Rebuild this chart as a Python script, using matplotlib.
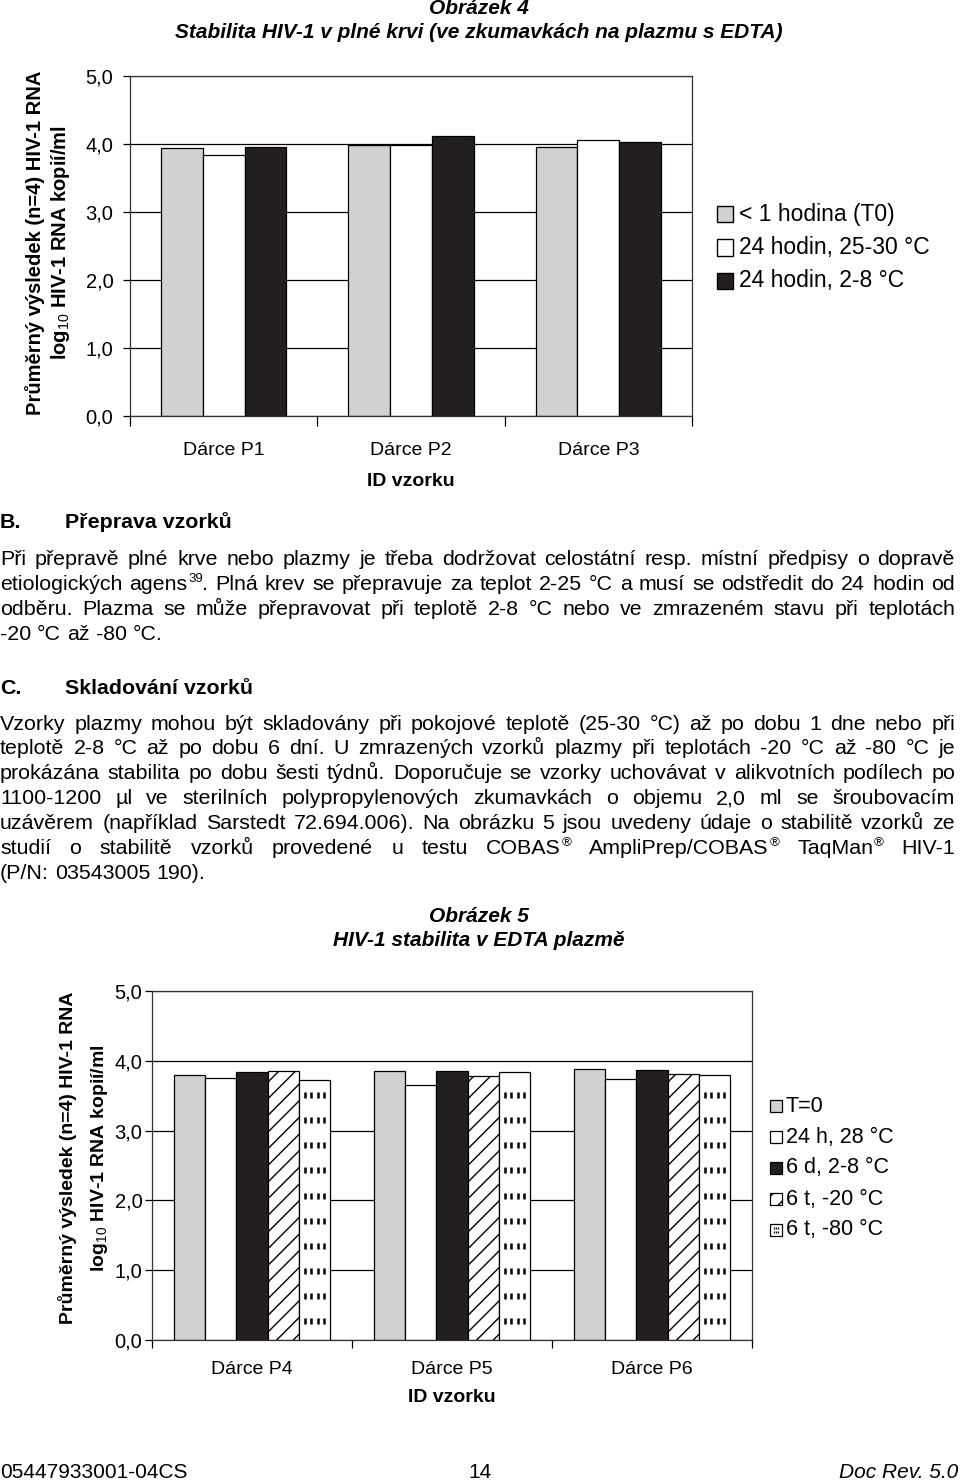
import re

import numpy as np
import matplotlib
matplotlib.use('Agg')
from matplotlib import pyplot as plt
from matplotlib.patches import Rectangle

plt.rcParams['font.family'] = ['Liberation Sans', 'DejaVu Sans']
plt.rcParams['mathtext.fontset'] = 'custom'
plt.rcParams['mathtext.rm'] = 'Liberation Sans'
plt.rcParams['mathtext.it'] = 'Liberation Sans:italic'
plt.rcParams['mathtext.bf'] = 'Liberation Sans:bold'
plt.rcParams['hatch.linewidth'] = 1.0

W, H = 960, 1483

# ---- data, figure 4 (whole blood) ----
donors_4 = ['Dárce P1', 'Dárce P2', 'Dárce P3']
series_4 = ['< 1 hodina (T0)', '24 hodin, 25-30 °C', '24 hodin, 2-8 °C']
t0_4 = [3.94, 3.99, 3.96]
h24_warm_4 = [3.84, 3.98, 4.06]
h24_cold_4 = [3.96, 4.12, 4.03]

# ---- data, figure 5 (EDTA plasma) ----
donors_5 = ['Dárce P4', 'Dárce P5', 'Dárce P6']
series_5 = ['T=0', '24 h, 28 °C', '6 d, 2-8 °C', '6 t, -20 °C', '6 t, -80 °C']
t0_5 = [3.79, 3.85, 3.88]
h24_5 = [3.75, 3.66, 3.74]
d6_cold_5 = [3.84, 3.86, 3.87]
w6_m20_5 = [3.86, 3.78, 3.81]
w6_m80_5 = [3.72, 3.84, 3.79]

yticks = [0, 1, 2, 3, 4, 5]
ytick_labels = ['0,0', '1,0', '2,0', '3,0', '4,0', '5,0']

ylabel_1 = 'Průměrný výsledek (n=4) HIV-1 RNA'
ylabel_2 = r'log$_{10}$ HIV-1 RNA kopií/ml'

para_b = [
    'Při přepravě plné krve nebo plazmy je třeba dodržovat celostátní resp. místní předpisy o dopravě',
    'etiologických agens^{39}. Plná krev se přepravuje za teplot 2-25 °C a musí se odstředit do 24 hodin od',
    'odběru. Plazma se může přepravovat při teplotě 2-8 °C nebo ve zmrazeném stavu při teplotách',
    '-20 °C až -80 °C.',
]
para_c = [
    'Vzorky plazmy mohou být skladovány při pokojové teplotě (25-30 °C) až po dobu 1 dne nebo při',
    'teplotě 2-8 °C až po dobu 6 dní. U zmrazených vzorků plazmy při teplotách -20 °C až -80 °C je',
    'prokázána stabilita po dobu šesti týdnů. Doporučuje se vzorky uchovávat v alikvotních podílech po',
    '1100-1200 µl ve sterilních polypropylenových zkumavkách o objemu 2,0 ml se šroubovacím',
    'uzávěrem (například Sarstedt 72.694.006). Na obrázku 5 jsou uvedeny údaje o stabilitě vzorků ze',
    'studií o stabilitě vzorků provedené u testu COBAS^{®} AmpliPrep/COBAS^{®} TaqMan^{®} HIV-1',
    '(P/N: 03543005 190).',
]

GRAY = '#cfd1d2'
BLACK = '#231f20'


def px(x):
    return x / W


def py(y):
    return 1 - y / H


fig = plt.figure(figsize=(W / 100, H / 100), dpi=100)
renderer = fig.canvas.get_renderer()


def bar_chart(left, top, right, bottom, donors, values, styles, bar_w, xlab_y, tick_len, ypad, xpad):
    ax = fig.add_axes([px(left), py(bottom), px(right) - px(left), py(top) - py(bottom)])
    x = np.arange(len(donors))
    n = len(values)
    containers = []
    for i, (vals, st) in enumerate(zip(values, styles)):
        offs = (i - (n - 1) / 2) * bar_w
        b = ax.bar(x + offs, vals, bar_w, facecolor=st[0], hatch=st[1],
                   edgecolor='black', linewidth=0.9, zorder=2)
        containers.append(b)
    ax.set_xlim(-0.5, len(donors) - 0.5)
    ax.set_ylim(0, 5)
    ax.set_yticks(yticks)
    ax.set_yticklabels(ytick_labels, fontsize=14.5)
    ax.yaxis.grid(True, color='black', linewidth=0.9)
    ax.set_axisbelow(True)
    ax.set_xticks(np.arange(len(donors) + 1) - 0.5)
    ax.set_xticklabels([])
    ax.set_xticks(x, minor=True)
    ax.set_xticklabels(donors, minor=True, fontsize=14)
    ax.tick_params(axis='x', which='minor', length=0, pad=xpad)
    ax.tick_params(axis='x', which='major', length=tick_len, width=0.9, direction='out')
    ax.tick_params(axis='y', length=5, width=0.9, pad=ypad)
    for sp in ax.spines.values():
        sp.set_linewidth(0.9)
        sp.set_color('#333333')
    ax.set_xlabel('ID vzorku', fontsize=14, fontweight='bold', va='center')
    ax.xaxis.set_label_coords(0.5, (bottom - xlab_y) / (bottom - top))
    return ax, containers


def dashes_in_bars(ax, container, nx=4, step=0.36, start=0.27):
    # little vertical dash pattern of the "-80 °C" bars
    for r in container:
        x0, w, top = r.get_x(), r.get_width(), r.get_height()
        xs = x0 + w * (np.arange(nx) + 1) / (nx + 1.0)
        ys = np.arange(start, top - 0.2, step)
        gx, gy = np.meshgrid(xs, ys)
        ax.plot(gx.ravel(), gy.ravel(), ls='none', marker='|', ms=4, mew=1.8,
                color='black', zorder=3)


# ---------- figure 4 ----------
fig.text(px(479), py(9), 'Obrázek 4', ha='center', va='center', fontsize=15,
         fontweight='bold', fontstyle='italic')
fig.text(px(479), py(33), 'Stabilita HIV-1 v plné krvi (ve zkumavkách na plazmu s EDTA)',
         ha='center', va='center', fontsize=15, fontweight='bold', fontstyle='italic')

styles_4 = [(GRAY, None), ('white', None), (BLACK, None)]
ax4, bars4 = bar_chart(130, 76, 692, 416, donors_4, [t0_4, h24_warm_4, h24_cold_4], styles_4,
                       0.223, 482, 7, 7, 19)
fig.text(px(35), py(243), ylabel_1, rotation=90, ha='center', va='center', fontsize=14.5,
         fontweight='bold')
fig.text(px(60), py(243), ylabel_2, rotation=90, ha='center', va='center', fontsize=14.5,
         fontweight='bold')

for i, (lab, st) in enumerate(zip(series_4, styles_4)):
    yc = 214 + 33.5 * i
    fig.add_artist(Rectangle((px(717), py(yc + 8)), 16 / W, 16 / H, transform=fig.transFigure,
                             facecolor=st[0], edgecolor='black', linewidth=1.0))
    fig.text(px(739), py(yc), lab, ha='left', va='center', fontsize=16.5)

# ---------- text paragraphs ----------
BODY = 15.4
BASE = 7.5  # baseline sits this many px below the visual line centre


def draw_words(line, y, x0, x1, justify, size=BODY):
    yb = y + BASE
    words = line.split(' ')
    parts_all = []
    widths = []
    for wd in words:
        bits = re.split(r'\^\{(.*?)\}', wd)
        parts = []
        tw = 0
        for k, b in enumerate(bits):
            if not b:
                continue
            sup = k % 2 == 1
            fs = size * 0.62 if sup else size
            t = fig.text(0, py(yb - 8 if sup else yb), b, fontsize=fs, va='baseline', ha='left')
            bw = t.get_window_extent(renderer).width
            parts.append((t, tw, sup))
            tw += bw
        parts_all.append(parts)
        widths.append(tw)
    space = 0.278 * size * 100 / 72
    if justify and len(words) > 1:
        space = (x1 - x0 - sum(widths)) / (len(words) - 1)
    xc = x0
    for parts, tw in zip(parts_all, widths):
        for t, off, sup in parts:
            t.set_x(px(xc + off + (1 if sup else 0)))
        xc += tw + space


def paragraph(lines, y0, dy):
    for i, ln in enumerate(lines):
        draw_words(ln, y0 + i * dy, 0, 955, justify=(i < len(lines) - 1))


def heading(letter, title, y):
    fig.text(px(0), py(y + BASE), letter, fontsize=BODY, fontweight='bold', va='baseline')
    fig.text(px(65), py(y + BASE), title, fontsize=BODY, fontweight='bold', va='baseline')


heading('B.', 'Přeprava vzorků', 521)
paragraph(para_b, 557, 25.3)

heading('C.', 'Skladování vzorků', 686)
paragraph(para_c, 722, 24.9)

# ---------- figure 5 ----------
fig.text(px(479), py(916), 'Obrázek 5', ha='center', va='center', fontsize=15,
         fontweight='bold', fontstyle='italic')
fig.text(px(479), py(941), 'HIV-1 stabilita v EDTA plazmě', ha='center', va='center',
         fontsize=15, fontweight='bold', fontstyle='italic')

styles_5 = [(GRAY, None), ('white', None), (BLACK, None), ('white', '//'), ('white', None)]
ax5, bars5 = bar_chart(152, 991, 752, 1340, donors_5,
                       [t0_5, h24_5, d6_cold_5, w6_m20_5, w6_m80_5], styles_5,
                       0.156, 1398, 6, 2, 15)
dashes_in_bars(ax5, bars5[4])
fig.text(px(68), py(1158), ylabel_1, rotation=90, ha='center', va='center', fontsize=14,
         fontweight='bold')
fig.text(px(100), py(1158), ylabel_2, rotation=90, ha='center', va='center', fontsize=14,
         fontweight='bold')

for i, (lab, st) in enumerate(zip(series_5, styles_5)):
    yc = 1106 + 31 * i
    fig.add_artist(Rectangle((px(770), py(yc + 6)), 12 / W, 12 / H, transform=fig.transFigure,
                             facecolor=st[0], hatch=st[1], edgecolor='black', linewidth=0.9))
    if i == 4:
        lx = px(770) + np.array([4, 6, 8]) / W
        for ry in (yc - 2, yc + 2):
            fig.lines.append(plt.Line2D(lx, [py(ry)] * 3, transform=fig.transFigure, ls='none',
                                        marker='|', ms=1.8, mew=0.9, color='black'))
    fig.text(px(786), py(yc), lab, ha='left', va='center', fontsize=15.5)

# ---------- footer ----------
fig.text(px(0), py(1473), '05447933001-04CS', ha='left', va='center', fontsize=15)
fig.text(px(480), py(1473), '14', ha='center', va='center', fontsize=15)
fig.text(px(958), py(1473), 'Doc Rev. 5.0', ha='right', va='center', fontsize=15,
         fontstyle='italic')

fig.savefig('out.png', dpi=100)
